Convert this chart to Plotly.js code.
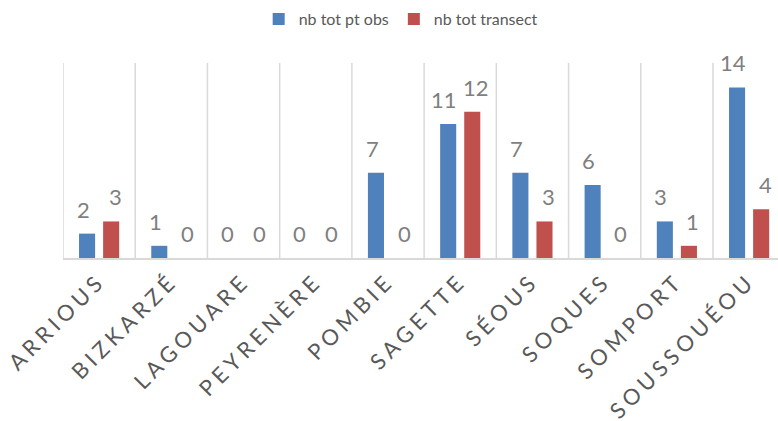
<!DOCTYPE html>
<html>
<head>
<meta charset="utf-8">
<script src="https://cdn.plot.ly/plotly-3.0.1.min.js"></script>
<style>
body{margin:0;padding:0;background:#fff;}
#chart{width:778px;height:421px;}
.xtick text{letter-spacing:4.5px;}
</style>
</head>
<body>
<div id="chart"></div>
<script>
const categories = ["ARRIOUS","BIZKARZÉ","LAGOUARE","PEYRENÈRE","POMBIE","SAGETTE","SÉOUS","SOQUES","SOMPORT","SOUSSOUÉOU"];
const ptObs = [2,1,0,0,7,11,7,6,3,14];
const transect = [3,0,0,0,0,12,3,0,1,4];
const seriesNames = ["nb tot pt obs","nb tot transect"];

const labelFont = {family:"Lato, 'Open Sans', sans-serif", size:22, color:"#7f7f7f"};
const annotations = [];
categories.forEach((c,i)=>{
  annotations.push({x:c,y:ptObs[i],text:String(ptObs[i]),xshift:-16,yshift:9,yanchor:"bottom",showarrow:false,font:labelFont});
  annotations.push({x:c,y:transect[i],text:String(transect[i]),xshift:16,yshift:9,yanchor:"bottom",showarrow:false,font:labelFont});
});

const data = [
  {type:"bar",name:seriesNames[0],x:categories,y:ptObs,marker:{color:"#4f81bd"},hoverinfo:"none"},
  {type:"bar",name:seriesNames[1],x:categories,y:transect,marker:{color:"#c0504d"},hoverinfo:"none"}
];
const layout = {
  width:778,height:421,
  margin:{l:63,r:0,t:63,b:163,autoexpand:false},
  paper_bgcolor:"#fff",plot_bgcolor:"#fff",
  barmode:"group",bargap:0.333,bargroupgap:0.333,
  showlegend:true,
  legend:{orientation:"h",xref:"container",yref:"container",x:0.515,xanchor:"center",y:0.995,yanchor:"top",font:{family:"Lato, sans-serif",size:16,color:"#595959"},itemwidth:30,tracegroupgap:0},
  xaxis:{type:"category",range:[-0.5,9.4],tickangle:-45,showgrid:false,showline:true,linecolor:"#d9d9d9",linewidth:1.5,ticks:"",
    tickfont:{family:"Lato, 'Open Sans', sans-serif",size:22,color:"#595959"},fixedrange:true,automargin:false},
  yaxis:{range:[0,16],showticklabels:false,showgrid:false,zeroline:false,showline:false,fixedrange:true},
  shapes:categories.map((c,i)=>({type:"line",xref:"x",yref:"paper",x0:i-0.5,x1:i-0.5,y0:0,y1:1,line:{color:"#d9d9d9",width:1.5}})),
  annotations:annotations
};
Plotly.newPlot("chart",data,layout,{staticPlot:true,displayModeBar:false});
</script>
</body>
</html>
